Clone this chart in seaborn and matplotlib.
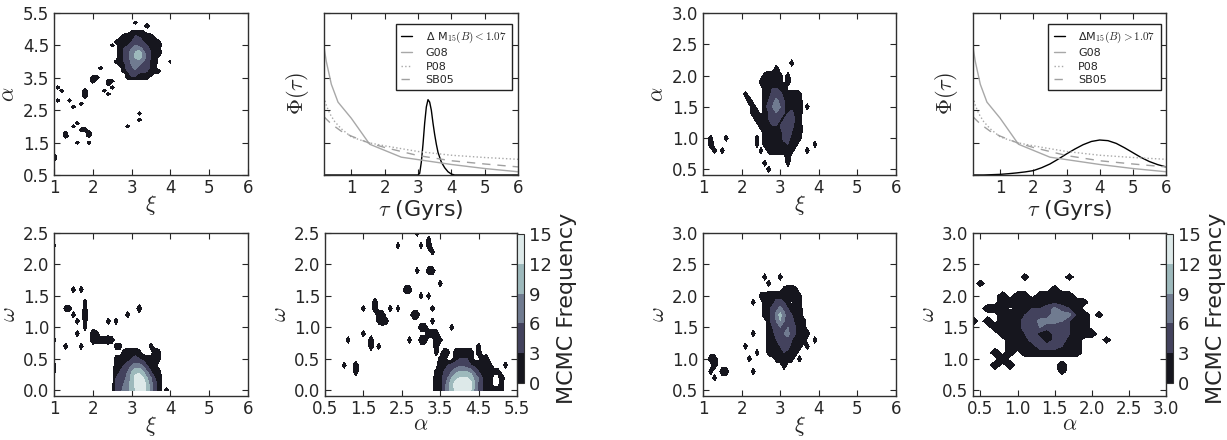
import numpy as np
import matplotlib
matplotlib.use("Agg")
import matplotlib.pyplot as plt
import seaborn as sns

# ------------------------------------------------------------------
# DATA
# ------------------------------------------------------------------
# delay-time distribution curves (tau in Gyr, Phi in axis units)
tau_g08 = [0.18, 0.25, 0.4, 0.6, 1.0, 1.55, 2.5, 3.0, 4.0, 5.0, 6.0]
phi_g08 = [0.79, 0.70, 0.56, 0.45, 0.35, 0.19, 0.11, 0.095, 0.065, 0.04, 0.02]
tau_ref = [0.18, 0.25, 0.35, 0.5, 0.7, 1.0, 1.5, 2.0, 3.0, 4.0, 5.0, 6.0]
phi_p08 = [0.48, 0.43, 0.38, 0.33, 0.285, 0.235, 0.20, 0.18, 0.145, 0.122, 0.108, 0.097]
phi_sb05 = [0.36, 0.345, 0.325, 0.30, 0.27, 0.24, 0.20, 0.17, 0.12, 0.088, 0.068, 0.05]

tau_low = [0.18, 1.0, 2.0, 3.0, 3.05, 3.1, 3.15, 3.2, 3.25, 3.3, 3.35, 3.4, 3.45,
           3.5, 3.55, 3.6, 3.65, 3.7, 3.8, 3.9, 4.0, 4.1, 5.0, 6.0]
phi_low = [0.0, 0.0, 0.0, 0.0, 0.01, 0.08, 0.19, 0.32, 0.42, 0.465, 0.45, 0.40, 0.32,
           0.25, 0.19, 0.14, 0.11, 0.08, 0.045, 0.02, 0.006, 0.0, 0.0, 0.0]
tau_high = [0.18, 0.5, 1.0, 1.25, 1.5, 1.75, 2.0, 2.25, 2.5, 2.75, 3.0, 3.25, 3.5,
            3.75, 4.0, 4.25, 4.5, 4.75, 5.0, 5.25, 5.5, 5.75, 6.0]
phi_high = [0.0, 0.0, 0.004, 0.008, 0.013, 0.019, 0.027, 0.045, 0.068, 0.098, 0.13,
            0.16, 0.187, 0.207, 0.216, 0.212, 0.195, 0.168, 0.138, 0.108, 0.083,
            0.064, 0.05]

label_low = r"Δ M$_{15}(B)<1.07$"
label_high = r"ΔM$_{15}(B)>1.07$"

# MCMC frequency maps: bins of 0.1, counts written as hex digits ('.' = 0)
# panel 1: xi (2.5 ..) vs alpha (rows from 4.9 down)
p1_core_x, p1_core_y = 2.5, 4.9
p1_core = [
    ".....1221......",
    "...12232221....",
    "..1122442221...",
    ".112235432221..",
    "1.22356543222..",
    "..13467854221..",
    "..23579a74322..",
    "..1357ab85321..",
    "..23579a7532...",
    ".12347876422...",
    "..1246765421...",
    "...245744421...",
    "...1345443221..",
    "....1442221....",
    "....122221.....",
]
p1_spots = [(3.1, 5.2, 1), (3.4, 5.1, 2), (4.0, 4.0, 1), (2.2, 3.8, 1),
            (2.0, 3.5, 2), (2.1, 3.5, 2), (2.0, 3.4, 2), (2.4, 3.4, 1), (2.5, 3.4, 1),
            (2.4, 3.3, 1), (2.5, 3.2, 1), (2.3, 3.1, 1), (2.4, 3.0, 1),
            (1.1, 3.2, 1), (1.2, 3.1, 1), (1.1, 2.8, 1), (1.4, 2.8, 1), (1.5, 2.6, 1),
            (1.7, 2.7, 1), (1.8, 3.1, 2), (1.8, 3.0, 2), (1.8, 2.9, 1),
            (2.9, 2.0, 1), (3.2, 2.4, 1), (3.2, 2.2, 1), (1.6, 2.1, 1), (1.5, 2.0, 1),
            (1.3, 1.8, 1), (1.3, 1.7, 2), (1.7, 1.9, 1), (1.8, 1.9, 2), (1.9, 1.8, 2),
            (1.9, 1.7, 1), (1.6, 1.5, 1), (1.9, 1.5, 1), (1.0, 1.1, 2), (1.0, 1.0, 2)]

# panel 3: xi (2.5 ..) vs omega (rows from 0.7 down)
p3_core_x, p3_core_y = 2.5, 0.7
p3_core = [
    ".11.......1...",
    "...12221...21.",
    ".112234321121.",
    ".12346775321..",
    ".33469bb96321.",
    ".3457adec9632.",
    ".4568adfeb742.",
    ".4578acfeb742.",
]
p3_spots = [(1.0, 2.3, 1), (1.5, 1.6, 1), (1.7, 1.6, 1), (1.3, 1.3, 1), (1.4, 1.3, 1),
            (1.5, 1.2, 1), (1.6, 1.1, 1), (1.8, 1.4, 1), (1.8, 1.3, 1), (1.8, 1.2, 2),
            (1.8, 1.1, 1), (1.8, 1.0, 1), (1.6, 0.9, 1), (1.0, 0.8, 1), (1.0, 0.4, 1),
            (1.0, 0.3, 1), (1.3, 0.7, 1), (1.7, 0.7, 1), (2.0, 0.9, 2), (2.1, 0.9, 1),
            (2.0, 0.8, 2), (2.1, 0.8, 1), (2.2, 0.8, 1), (2.3, 0.8, 1), (2.4, 0.8, 2),
            (2.5, 0.8, 1), (2.4, 1.1, 1), (2.6, 1.1, 1), (2.9, 1.2, 1), (3.2, 1.3, 2),
            (3.9, 0.0, 1)]

# panel 4: alpha (3.4 ..) vs omega (rows from 0.7 down)
p4_core_x, p4_core_y = 3.4, 0.7
p4_core = [
    "...........1.......",
    "..21.22222.2.......",
    ".12..23332..12.....",
    ".22344554322221....",
    "12356899985322211..",
    "22469bcccb86322..2.",
    "2248bdeeed95321..1.",
    "2248adeeec85322221.",
]
p4_spots = [(2.9, 2.5, 1), (2.4, 2.3, 1), (3.0, 2.3, 1), (3.2, 2.4, 1), (3.2, 2.3, 2),
            (3.3, 2.2, 1), (2.9, 1.9, 1), (3.2, 1.9, 2), (3.3, 1.9, 2), (3.5, 1.7, 1),
            (2.6, 1.6, 2), (2.7, 1.6, 2), (3.0, 1.5, 1), (3.2, 1.5, 1), (1.5, 1.3, 1),
            (1.8, 1.4, 2), (1.8, 1.3, 2), (2.2, 1.3, 1), (2.4, 1.3, 1), (3.3, 1.3, 1),
            (1.9, 1.2, 2), (2.0, 1.2, 2), (2.0, 1.1, 2), (1.9, 1.1, 1), (2.1, 1.1, 1),
            (2.8, 1.2, 2), (2.9, 1.2, 2), (3.3, 1.1, 1), (3.0, 1.0, 2), (3.1, 1.0, 2),
            (3.2, 0.9, 2), (3.3, 0.9, 2), (3.4, 0.9, 2), (3.4, 0.8, 2), (3.5, 0.8, 1),
            (3.4, 0.7, 2), (3.4, 0.6, 1), (3.0, 0.8, 2), (3.1, 0.8, 2), (3.8, 1.0, 1),
            (2.7, 0.8, 1), (1.1, 0.8, 1), (1.5, 0.9, 1), (1.7, 0.8, 2), (1.7, 0.7, 2),
            (1.9, 0.7, 1), (1.0, 0.4, 1), (1.3, 0.4, 2), (1.3, 0.3, 2), (5.2, 0.4, 1)]

# panel 5: xi (2.0 ..) vs alpha (rows from 2.2 down)
p5_core_x, p5_core_y = 2.0, 2.2
p5_core = [
    ".............1....",
    ".........2........",
    "......12221.1.....",
    ".....122222.2.....",
    "......223322......",
    ".1....2244422221..",
    "..2...2357532222..",
    "...2..2468632222..",
    "...22.2356433422..",
    "....222345334521..",
    ".....22233345422..",
    "......2222245322..",
    "......2222244221..",
    "......122222321...",
    ".......1222221....",
    "............2.....",
    "............1.....",
]
p5_spots = [(1.2, 1.0, 1), (1.2, 0.9, 2), (1.3, 0.8, 1), (1.5, 0.8, 1), (1.6, 1.0, 1),
            (2.4, 1.0, 1), (2.4, 0.9, 1), (2.5, 0.8, 1), (2.6, 0.6, 1), (2.7, 0.5, 1),
            (3.7, 0.8, 1), (3.9, 0.9, 1), (3.7, 1.5, 1)]

# panel 7: xi (2.5 ..) vs omega (rows from 2.1 down)
p7_core_x, p7_core_y = 2.5, 2.1
p7_core = [
    "......1221....",
    ".1222222221...",
    ".2224432.21...",
    ".2245753222...",
    ".2247a74322...",
    "..2469654222..",
    "..2356564322..",
    "..22456743222.",
    "..2234553222..",
    "..222344222...",
    "..12223221....",
    "....12221.....",
    "......2.......",
]
p7_spots = [(2.6, 2.3, 1), (2.7, 2.2, 1), (3.0, 2.3, 1), (2.5, 2.0, 1), (2.3, 1.9, 1),
            (2.3, 1.4, 1), (2.1, 1.2, 1), (2.4, 1.1, 1), (2.2, 1.0, 1), (2.3, 0.8, 1),
            (3.5, 1.0, 1), (3.7, 1.2, 1), (3.9, 1.3, 1), (1.2, 1.0, 2), (1.3, 1.0, 2),
            (1.3, 0.9, 2), (1.2, 0.8, 1), (1.3, 0.7, 1), (1.5, 0.8, 2), (1.6, 0.8, 2)]

# panel 8: alpha (0.4 ..) vs omega (rows from 2.3 down)
p8_core_x, p8_core_y = 0.4, 2.3
p8_core = [
    ".......1.....1.....",
    ".1.................",
    "...........2.......",
    "....2.22.22222.....",
    "....222222222221...",
    "..222.223347432....",
    "....222344578722.1.",
    "2.2.222447776322...",
    "...2222446444322...",
    "....2223421443222..",
    ".....2224414422....",
    ".....2222444322....",
    "...2.2.22222222....",
    "....2..............",
    "...2.2......2......",
    "............1......",
]
p8_spots = [(2.2, 1.3, 1)]

LEVELS = [0, 3, 6, 9, 12, 15]


# ------------------------------------------------------------------
def hist_grid(xlo, xhi, ylo, yhi, core, core_x, core_y, spots, step=0.1):
    nx = int(round((xhi - xlo) / step)) + 1
    ny = int(round((yhi - ylo) / step)) + 1
    xs = xlo + step * np.arange(nx)
    ys = ylo + step * np.arange(ny)
    N = np.zeros((ny, nx))
    for r, row in enumerate(core):
        j = int(round((core_y - r * step - ylo) / step))
        for c, ch in enumerate(row):
            if ch != ".":
                i = int(round((core_x + c * step - xlo) / step))
                if 0 <= i < nx and 0 <= j < ny:
                    N[j, i] += int(ch, 16)
    for x, y, n in spots:
        i = int(round((x - xlo) / step))
        j = int(round((y - ylo) / step))
        if 0 <= i < nx and 0 <= j < ny:
            N[j, i] += n
    return xs, ys, np.where(N > 0, N, -1.0)


sns.set_theme(style="ticks")
plt.rcParams.update({
    "font.family": ["DejaVu Sans"],
    "mathtext.fontset": "cm",
    "axes.edgecolor": "#303030",
    "axes.linewidth": 1.0,
    "xtick.direction": "in",
    "ytick.direction": "in",
    "xtick.top": True,
    "ytick.right": True,
    "xtick.major.size": 4,
    "ytick.major.size": 4,
    "xtick.major.width": 0.8,
    "ytick.major.width": 0.8,
    "xtick.major.pad": 3,
    "xtick.labelsize": 12,
    "ytick.labelsize": 12,
    "axes.labelsize": 16,
})

fig = plt.figure(figsize=(12.27, 4.40), dpi=100)
fig.patch.set_facecolor("white")

W, H = 1227.0, 440.0


def rect(l, r, t, b):
    return [l / W, (H - b) / H, (r - l) / W, (b - t) / H]


def fmt_ticks(t):
    if all(float(v).is_integer() for v in t):
        return ["%d" % v for v in t]
    return ["%.1f" % v for v in t]


def contour_panel(r, grid, xlim, ylim, xticks, yticks, xlabel, ylabel):
    ax = fig.add_axes(r)
    xs, ys, Z = grid
    cs = ax.contourf(xs, ys, Z, levels=LEVELS, cmap="bone")
    ax.set_xlim(*xlim)
    ax.set_ylim(*ylim)
    ax.set_xticks(xticks)
    ax.set_yticks(yticks)
    ax.set_xticklabels(fmt_ticks(xticks))
    ax.set_yticklabels(fmt_ticks(yticks))
    ax.set_xlabel(xlabel, labelpad=-3)
    ax.set_ylabel(ylabel, labelpad=3)
    return ax, cs


def line_panel(r, tau_main, phi_main, lab):
    ax = fig.add_axes(r)
    sns.lineplot(x=tau_main, y=phi_main, ax=ax, color="black", lw=1.0, label=lab)
    sns.lineplot(x=tau_g08, y=phi_g08, ax=ax, color="#a8a8a8", lw=1.0, label="G08")
    sns.lineplot(x=tau_ref, y=phi_p08, ax=ax, color="#a8a8a8", lw=1.0,
                 linestyle=":", label="P08")
    sns.lineplot(x=tau_ref, y=phi_sb05, ax=ax, color="#a0a0a0", lw=1.0,
                 linestyle=(0, (6, 5)), label="SB05")
    ax.set_xlim(0.18, 6.0)
    ax.set_ylim(0, 1.0)
    ax.set_xticks([1, 2, 3, 4, 5, 6])
    ax.set_yticks([0, 0.2, 0.4, 0.6, 0.8, 1.0])
    ax.set_yticklabels([])
    ax.set_xlabel(r"$\tau$ (Gyrs)", labelpad=0.5)
    ax.set_ylabel(r"$\Phi(\tau)$", labelpad=6)
    return ax


def add_legend(ax, anchor):
    leg = ax.legend(loc="upper right", bbox_to_anchor=anchor, borderaxespad=0,
                    fontsize=8, frameon=True, fancybox=False, edgecolor="#222222",
                    framealpha=1, handlelength=1.0, handletextpad=1.2,
                    labelspacing=0.3, borderpad=0.5)
    leg.get_frame().set_linewidth(1.0)


def add_cbar(cs, r):
    cax = fig.add_axes(r)
    cb = fig.colorbar(cs, cax=cax, ticks=LEVELS)
    cb.set_label("MCMC Frequency", fontsize=16, labelpad=4)
    cb.ax.tick_params(labelsize=13, length=0, right=True, left=False)
    cb.outline.set_linewidth(0.8)


# ---------------- left group ----------------
g1 = hist_grid(1.0, 4.0, 0.9, 5.3, p1_core, p1_core_x, p1_core_y, p1_spots)
contour_panel(rect(54, 248, 13, 175), g1, (1, 6), (0.5, 5.5), [1, 2, 3, 4, 5, 6],
              [0.5, 1.5, 2.5, 3.5, 4.5, 5.5], r"$\xi$", r"$\alpha$")

ax2 = line_panel(rect(324, 518, 13, 175), tau_low, phi_low, label_low)
add_legend(ax2, (0.969, 0.932))

g3 = hist_grid(1.0, 4.0, 0.0, 2.5, p3_core, p3_core_x, p3_core_y, p3_spots)
contour_panel(rect(54, 248, 233, 396), g3, (1, 6), (-0.09, 2.5), [1, 2, 3, 4, 5, 6],
              [0.0, 0.5, 1.0, 1.5, 2.0, 2.5], r"$\xi$", r"$\omega$")

g4 = hist_grid(0.9, 5.3, 0.0, 2.6, p4_core, p4_core_x, p4_core_y, p4_spots)
ax4, cs4 = contour_panel(rect(325, 517, 233, 396), g4, (0.5, 5.5), (-0.09, 2.5),
                         [0.5, 1.5, 2.5, 3.5, 4.5, 5.5],
                         [0.0, 0.5, 1.0, 1.5, 2.0, 2.5], r"$\alpha$", r"$\omega$")
add_cbar(cs4, rect(517, 524, 234, 383))

# ---------------- right group ----------------
g5 = hist_grid(1.0, 4.0, 0.4, 2.4, p5_core, p5_core_x, p5_core_y, p5_spots)
contour_panel(rect(703, 896, 13, 175), g5, (1, 6), (0.41, 3.0), [1, 2, 3, 4, 5, 6],
              [0.5, 1.0, 1.5, 2.0, 2.5, 3.0], r"$\xi$", r"$\alpha$")

ax6 = line_panel(rect(973, 1166, 13, 175), tau_high, phi_high, label_high)
add_legend(ax6, (0.974, 0.932))

g7 = hist_grid(1.0, 4.0, 0.5, 2.5, p7_core, p7_core_x, p7_core_y, p7_spots)
contour_panel(rect(703, 896, 233, 396), g7, (1, 6), (0.41, 3.0), [1, 2, 3, 4, 5, 6],
              [0.5, 1.0, 1.5, 2.0, 2.5, 3.0], r"$\xi$", r"$\omega$")

g8 = hist_grid(0.4, 2.3, 0.7, 2.4, p8_core, p8_core_x, p8_core_y, p8_spots)
ax8, cs8 = contour_panel(rect(973, 1166, 233, 396), g8, (0.4, 3.0), (0.41, 3.0),
                         [0.5, 1.0, 1.5, 2.0, 2.5, 3.0],
                         [0.5, 1.0, 1.5, 2.0, 2.5, 3.0], r"$\alpha$", r"$\omega$")
add_cbar(cs8, rect(1166, 1173, 234, 383))

fig.savefig("out.png", dpi=100, facecolor="white")
